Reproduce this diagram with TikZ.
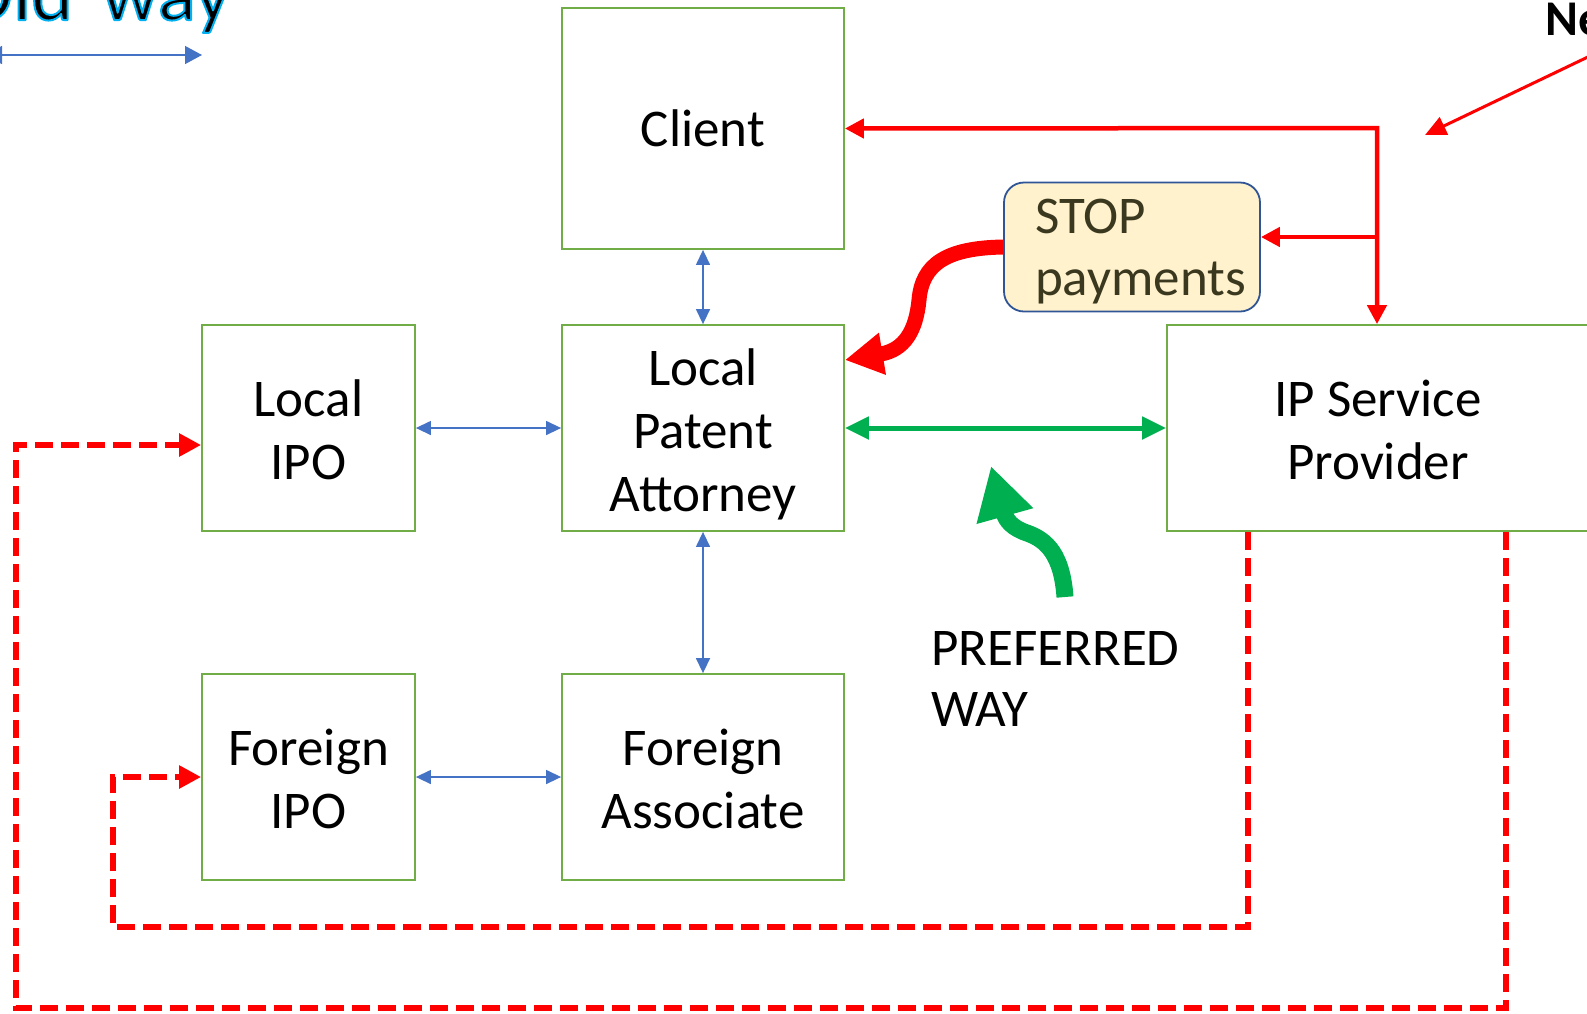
\documentclass[tikz,border=0pt]{standalone}
\usepackage{fontspec}
\setmainfont{Carlito}
\usetikzlibrary{arrows.meta,calc}
\definecolor{boxgreen}{HTML}{70AD47}
\definecolor{arrblue}{HTML}{4472C4}
\definecolor{pgreen}{HTML}{00B050}
\definecolor{stopfill}{HTML}{FFF2CC}
\definecolor{stopdraw}{HTML}{2F5597}
\definecolor{stoptext}{HTML}{3B3820}
\definecolor{pred}{HTML}{FF0000}
\newcommand{\glowtext}[1]{\special{pdf:literal direct 2 Tr 1 j 2 w 0 0.69 0.94 RG}#1\special{pdf:literal direct 0 Tr}}
\begin{document}
\begin{tikzpicture}[x=1pt,y=-1pt,
  box/.style={draw=boxgreen,line width=1.8pt,align=center,inner sep=0pt,
    font=\fontsize{53}{63}\selectfont},
  stopbox/.style={draw=stopdraw,fill=stopfill,line width=1.8pt,rounded corners=20pt,
    align=left,text width=194pt,inner xsep=31pt,inner ysep=0pt,text=stoptext,
    font=\fontsize{53}{62}\selectfont},
  bluearr/.style={draw=arrblue,line width=1.4pt,
    {Triangle[length=15pt,width=14pt]}-{Triangle[length=15pt,width=14pt]}},
  greenarr/.style={draw=pgreen,line width=5pt,
    {Triangle[length=24pt,width=22pt]}-{Triangle[length=24pt,width=22pt]}},
  redsolid/.style={draw=pred,line width=4.5pt},
  reddash/.style={draw=pred,line width=6pt,dash pattern=on 18pt off 8pt,
    -{Triangle[length=22pt,width=22pt]}},
  plain/.style={inner sep=0pt,align=left}
]
\useasboundingbox (0,0) rectangle (1587,1013);
\clip (0,0) rectangle (1587,1013);

% boxes
\node[box,minimum width=282pt,minimum height=241pt] (client) at (703,128.5) {Client};
\node[box,minimum width=213pt,minimum height=206pt] (lipo) at (308.5,428) {\rule{0pt}{41pt}Local\\IPO};
\node[box,minimum width=282pt,minimum height=206pt] (lpa) at (703,428) {\rule{0pt}{50pt}Local\\Patent\\Attorney};
\node[box,minimum width=422pt,minimum height=206pt] (ipsp) at (1378,428) {\rule{0pt}{40pt}IP Service\\Provider};
\node[box,minimum width=213pt,minimum height=206pt] (fipo) at (308.5,777) {\rule{0pt}{41pt}Foreign\\IPO};
\node[box,minimum width=282pt,minimum height=206pt] (fa) at (703,777) {\rule{0pt}{41pt}Foreign\\Associate};
\node[stopbox,minimum height=129pt] (stop) at (1132,247) {\rule{0pt}{44pt}STOP\\payments};

% titles
\node[plain,anchor=base east,font=\fontsize{80}{84}\selectfont] (oldway) at (231,20) {\glowtext{Old\hspace{10pt} way}};
\node[plain,anchor=base west,font=\bfseries\fontsize{50}{60}\selectfont] (newway) at (1545,35) {New way};
\node[plain,anchor=north west,font=\fontsize{53}{61}\selectfont] (pref) at (931,631) {PREFERRED\\WAY};

% old way legend arrow
\coordinate (ow1) at (-15,55);
\coordinate (ow2) at (202,55);
\draw[draw=arrblue,line width=1.4pt,{Triangle[length=17pt,width=18pt]}-{Triangle[length=17pt,width=18pt]}] (ow1) -- (ow2);

% blue connectors
\draw[bluearr] (client.south) -- (lpa.north);
\draw[bluearr] (lipo.east) -- (lpa.west);
\draw[bluearr] (lpa.south) -- (fa.north);
\draw[bluearr] (fipo.east) -- (fa.west);

% green preferred connector
\draw[greenarr] (lpa.east) -- (ipsp.west);

% red solid connectors
\coordinate (J) at (1377,128);
\coordinate (B) at (1377,237);
\draw[redsolid,{Triangle[length=19pt,width=19pt]}-{Triangle[length=19pt,width=19pt]}] (client.east) -- (J) -- (J |- ipsp.north);
\draw[redsolid,-{Triangle[length=19pt,width=19pt]}] (B) -- (stop.east |- B);

% new way pointer
\coordinate (nw) at (1592,55);
\coordinate (nwend) at (1425,135);
\draw[draw=pred,line width=3pt,-{Triangle[length=21pt,width=19pt]}] (nw) -- (nwend);

% red curved arrow from STOP payments to local patent attorney
\coordinate (lpatip) at (845,360);
\draw[draw=pred,line width=15pt,-{Triangle[length=38pt,width=40pt]}]
  (stop.west) .. controls (945,248) and (922,265) .. (919,300)
  .. controls (916,330) and (905,350) .. (lpatip);

% green curved arrow
\coordinate (gtail) at (1065,597);
\coordinate (gtip) at (991,466);
\draw[draw=pgreen,line width=17pt,-{Triangle[length=52pt,width=55pt]}]
  (gtail) .. controls (1062,555) and (1047,540) .. (1027,533)
  .. controls (1012,528) and (1006,520) .. (gtip);

% red dashed connectors
\coordinate (d1a) at (1248,927);
\coordinate (d1b) at (113,927);
\draw[reddash] (d1a |- ipsp.south) -- (d1a) -- (d1b) -- (d1b |- fipo.west) -- (fipo.west);
\coordinate (d2a) at (1506,1008);
\coordinate (d2b) at (16,1008);
\coordinate (d2c) at (16,445);
\draw[reddash] (d2a |- ipsp.south) -- (d2a) -- (d2b) -- (d2c) -- (lipo.west |- d2c);
\end{tikzpicture}
\end{document}
